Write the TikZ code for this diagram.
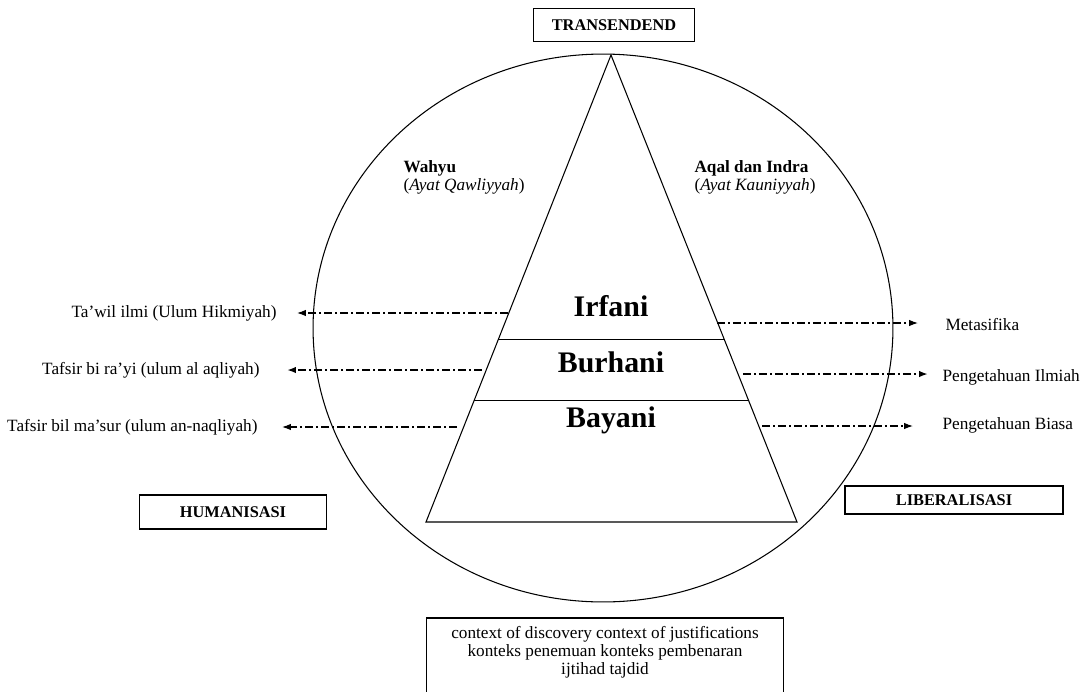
\documentclass[tikz,border=0pt]{standalone}
\usepackage{fontspec}
\setmainfont{Liberation Serif}
\usetikzlibrary{arrows.meta,calc}

\tikzset{
  lbl/.style={font=\fontsize{9.8}{10.2}\selectfont, inner sep=0pt},
  tagbox/.style={draw, line width=0.7pt, font=\fontsize{9.3}{11}\selectfont\bfseries, inner sep=0pt},
  level/.style={font=\fontsize{17}{20}\selectfont\bfseries, inner sep=0pt, anchor=base},
  link/.style={-{Latex[length=5pt,width=3.6pt]}, line width=0.6pt,
               dash pattern=on 4.5pt off 1.8pt on 1pt off 1.8pt},
  boldlink/.style={link, line width=1pt}
}

\begin{document}
\begin{tikzpicture}[x=0.02cm, y=-0.02cm, line width=0.6pt]

        \useasboundingbox (0,0) rectangle (1083,691);

        % Circle around everything
        \draw (603,328) ellipse [x radius=5.8cm, y radius=5.48cm];

        % Triangle with its three levels
        \coordinate (apex) at (611,55);
        \coordinate (bl) at (426,522);
        \coordinate (br) at (797,522);
        \draw (apex) -- (bl) -- (br) -- cycle;
        \draw ($(apex)!0.610!(bl)$) -- ($(apex)!0.610!(br)$);
        \draw ($(apex)!0.739!(bl)$) -- ($(apex)!0.739!(br)$);

        \node[level] (irfani) at (611,316) {Irfani};
        \node[level] (burhani) at (611,372) {Burhani};
        \node[level] (bayani) at (611,427) {Bayani};

        % Boxes
        \node[tagbox, minimum width=3.22cm, minimum height=0.66cm] (trans) at (614,25) {TRANSENDEND};
        \node[tagbox, minimum width=3.74cm, minimum height=0.68cm] (human) at (233,512) {HUMANISASI};
        \node[tagbox, minimum width=4.36cm, minimum height=0.56cm] (liberal) at (954,500) {LIBERALISASI};

        % Sources
        \node[lbl, align=left, anchor=west] (wahyu) at (403,177)
            {\textbf{Wahyu}\\(\textit{Ayat Qawliyyah})};
        \node[lbl, align=left, anchor=west] (aqal) at (694,177)
            {\textbf{Aqal dan Indra}\\(\textit{Ayat Kauniyyah})};

        % Left side
        \node[lbl, anchor=east] (tawil) at (277,313) {Ta’wil ilmi (Ulum Hikmiyah)};
        \node[lbl, anchor=east] (tafrayi) at (260,370) {Tafsir bi ra’yi (ulum al aqliyah)};
        \node[lbl, anchor=east] (tafmasur) at (258,427) {Tafsir bil ma’sur (ulum an-naqliyah)};
        \coordinate (irfL) at (508,313);
        \coordinate (burL) at (482,370);
        \coordinate (bayL) at (457,427);
        \coordinate (tipA) at (297,313);
        \coordinate (tipB) at (287,370);
        \coordinate (tipC) at (282,427);
        \draw[link] (irfL) -- (tipA);
        \draw[boldlink] (burL) -- (tipB);
        \draw[link] (bayL) -- (tipC);

        % Right side
        \node[lbl, anchor=west] (meta) at (945,325) {Metasifika};
        \node[lbl, anchor=west] (ilmiah) at (942,377) {Pengetahuan Ilmiah};
        \node[lbl, anchor=west] (biasa) at (942,425) {Pengetahuan Biasa};
        \coordinate (irfR) at (717,323);
        \coordinate (burR) at (743,374);
        \coordinate (bayR) at (762,426);
        \coordinate (tipD) at (918,323);
        \coordinate (tipE) at (928,374);
        \coordinate (tipF) at (913,426);
        \draw[link] (irfR) -- (tipD);
        \draw[boldlink] (burR) -- (tipE);
        \draw[link] (bayR) -- (tipF);

        % Context box, open at the bottom edge
        \node[lbl, align=center, anchor=north, minimum width=7.12cm, inner ysep=4.5pt] (ctx) at (605,618)
            {context of discovery context of justifications\\konteks penemuan konteks pembenaran\\ijtihad tajdid};
        \draw[line width=0.7pt] ([yshift=-1cm]ctx.south west) |- (ctx.north east) -- ([yshift=-1cm]ctx.south east);

    \end{tikzpicture}
\end{document}
